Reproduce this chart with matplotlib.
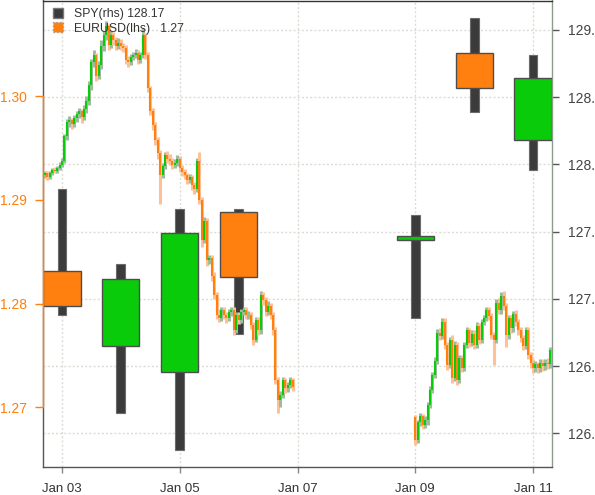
import numpy as np
import pandas as pd
import matplotlib
matplotlib.use("Agg")
import matplotlib.pyplot as plt
import matplotlib.dates as mdates
from matplotlib.patches import Patch

plt.rcParams['font.family'] = ['Liberation Sans', 'DejaVu Sans']

# ---------------- data ----------------
spy_dates = ['2012-01-03', '2012-01-04', '2012-01-05', '2012-01-06',
             '2012-01-09', '2012-01-10', '2012-01-11']
spy_open  = [127.21, 126.65, 126.46, 127.645, 127.44, 128.83, 128.18]
spy_high  = [127.82, 127.26, 127.67, 127.67, 127.62, 129.09, 128.81]
spy_low   = [126.88, 126.15, 125.88, 126.74, 126.86, 128.39, 127.96]
spy_close = [126.95, 127.15, 127.49, 127.16, 127.47, 128.57, 128.64]

fx1_start = '2012-01-02 16:00'
fx1_open0 = 1.2921
fx1_close = [1.2924, 1.2926, 1.2922, 1.2926, 1.2929, 1.2928, 1.2931, 1.2934,
             1.2938, 1.2962, 1.2975, 1.2977, 1.2973, 1.2979, 1.2983, 1.2986, 1.2980, 1.2988,
             1.2996, 1.3011, 1.3033, 1.3040, 1.3020, 1.3030, 1.3049, 1.3059, 1.3068, 1.3050,
             1.3059, 1.3054, 1.3049, 1.3052, 1.3049, 1.3047, 1.3035, 1.3033, 1.3038, 1.3040,
             1.3042, 1.3035, 1.3040, 1.3059, 1.3040, 1.3008, 1.2986, 1.2972, 1.2958, 1.2945,
             1.2924, 1.2933, 1.2943, 1.2940, 1.2938, 1.2934, 1.2936, 1.2940, 1.2931, 1.2927,
             1.2924, 1.2919, 1.2922, 1.2914, 1.2911, 1.2938, 1.2900, 1.2861, 1.2880, 1.2842,
             1.2844, 1.2827, 1.2808, 1.2789, 1.2786, 1.2794, 1.2789, 1.2786, 1.2792, 1.2794,
             1.2774, 1.2789, 1.2784, 1.2792, 1.2794, 1.2789, 1.2789, 1.2779, 1.2765, 1.2784,
             1.2774, 1.2808, 1.2803, 1.2792, 1.2798, 1.2789, 1.2774, 1.2726, 1.2707, 1.2712,
             1.2726, 1.2718, 1.2721, 1.2726, 1.2719]
fx1_high = [1.2927, 1.2928, 1.2928, 1.2928, 1.2931, 1.2932, 1.2933, 1.2937,
            1.2941, 1.2964, 1.2978, 1.2981, 1.2979, 1.2982, 1.2986, 1.2989, 1.2988, 1.2992,
            1.3000, 1.3015, 1.3036, 1.3045, 1.3042, 1.3034, 1.3054, 1.3063, 1.3073, 1.3070,
            1.3063, 1.3062, 1.3057, 1.3056, 1.3055, 1.3052, 1.3050, 1.3039, 1.3041, 1.3043,
            1.3046, 1.3045, 1.3043, 1.3066, 1.3061, 1.3043, 1.3010, 1.2989, 1.2975, 1.2961,
            1.2948, 1.2936, 1.2946, 1.2947, 1.2944, 1.2941, 1.2940, 1.2943, 1.2942, 1.2934,
            1.2930, 1.2926, 1.2925, 1.2924, 1.2917, 1.2941, 1.2946, 1.2903, 1.2884, 1.2883,
            1.2847, 1.2847, 1.2830, 1.2811, 1.2795, 1.2797, 1.2797, 1.2792, 1.2795, 1.2797,
            1.2797, 1.2792, 1.2792, 1.2795, 1.2797, 1.2797, 1.2793, 1.2792, 1.2782, 1.2787,
            1.2787, 1.2812, 1.2811, 1.2806, 1.2802, 1.2801, 1.2792, 1.2777, 1.2729, 1.2716,
            1.2729, 1.2728, 1.2724, 1.2729, 1.2728]
fx1_low = [1.2919, 1.2921, 1.2919, 1.2920, 1.2924, 1.2926, 1.2926, 1.2929,
           1.2932, 1.2936, 1.2958, 1.2970, 1.2969, 1.2970, 1.2975, 1.2979, 1.2974, 1.2977,
           1.2984, 1.2992, 1.3006, 1.3028, 1.3015, 1.3017, 1.3026, 1.3044, 1.3054, 1.3045,
           1.3047, 1.3050, 1.3045, 1.3046, 1.3045, 1.3043, 1.3031, 1.3028, 1.3030, 1.3035,
           1.3037, 1.3031, 1.3032, 1.3037, 1.3036, 1.3004, 1.2982, 1.2968, 1.2953, 1.2940,
           1.2896, 1.2921, 1.2930, 1.2936, 1.2934, 1.2930, 1.2931, 1.2933, 1.2927, 1.2923,
           1.2920, 1.2915, 1.2916, 1.2910, 1.2906, 1.2908, 1.2896, 1.2855, 1.2858, 1.2836,
           1.2838, 1.2822, 1.2804, 1.2785, 1.2782, 1.2783, 1.2785, 1.2781, 1.2783, 1.2788,
           1.2770, 1.2772, 1.2780, 1.2781, 1.2789, 1.2785, 1.2785, 1.2775, 1.2760, 1.2763,
           1.2770, 1.2771, 1.2799, 1.2788, 1.2789, 1.2785, 1.2770, 1.2722, 1.2694, 1.2700,
           1.2709, 1.2714, 1.2715, 1.2718, 1.2716]

fx2_start = '2012-01-09 00:00'
fx2_open0 = 1.2690
fx2_close = [1.2668, 1.2686, 1.2691, 1.2683, 1.2688, 1.2702, 1.2717, 1.2731, 1.2745, 1.2772,
             1.2769, 1.2782, 1.2760, 1.2741, 1.2765, 1.2728, 1.2760, 1.2726, 1.2747, 1.2738,
             1.2760, 1.2774, 1.2762, 1.2771, 1.2760, 1.2778, 1.2765, 1.2782, 1.2786, 1.2794,
             1.2788, 1.2770, 1.2765, 1.2801, 1.2794, 1.2807, 1.2798, 1.2770, 1.2786, 1.2776,
             1.2790, 1.2782, 1.2774, 1.2767, 1.2759, 1.2774, 1.2750, 1.2743, 1.2738, 1.2742,
             1.2738, 1.2743, 1.2740, 1.2743, 1.2742, 1.2755]
fx2_high = [1.2692, 1.2688, 1.2694, 1.2693, 1.2691, 1.2705, 1.2720, 1.2734, 1.2748, 1.2775,
            1.2776, 1.2786, 1.2786, 1.2763, 1.2768, 1.2770, 1.2764, 1.2763, 1.2750, 1.2750,
            1.2763, 1.2777, 1.2776, 1.2774, 1.2774, 1.2782, 1.2781, 1.2785, 1.2789, 1.2797,
            1.2797, 1.2791, 1.2773, 1.2804, 1.2805, 1.2811, 1.2812, 1.2801, 1.2789, 1.2789,
            1.2793, 1.2794, 1.2785, 1.2777, 1.2770, 1.2777, 1.2777, 1.2753, 1.2746, 1.2745,
            1.2744, 1.2746, 1.2746, 1.2746, 1.2747, 1.2758]
fx2_low = [1.2663, 1.2665, 1.2682, 1.2679, 1.2680, 1.2683, 1.2699, 1.2714, 1.2728, 1.2742,
           1.2765, 1.2766, 1.2756, 1.2736, 1.2738, 1.2723, 1.2725, 1.2721, 1.2723, 1.2734,
           1.2735, 1.2757, 1.2758, 1.2759, 1.2756, 1.2757, 1.2761, 1.2762, 1.2779, 1.2783,
           1.2784, 1.2766, 1.2741, 1.2762, 1.2790, 1.2790, 1.2794, 1.2758, 1.2766, 1.2772,
           1.2773, 1.2778, 1.2770, 1.2763, 1.2755, 1.2756, 1.2746, 1.2738, 1.2733, 1.2734,
           1.2733, 1.2734, 1.2735, 1.2736, 1.2737, 1.2738]

x_tick_dates = ['2012-01-03', '2012-01-05', '2012-01-07', '2012-01-09', '2012-01-11']
fx_ticks = [1.27, 1.28, 1.29, 1.30]
spy_ticks = [126.0, 126.5, 127.0, 127.5, 128.0, 128.5, 129.0]
legend_labels = ['SPY(rhs) 128.17', 'EURUSD(lhs)   1.27']

# ---------------- style ----------------
UP = '#0ACB0A'
DN = '#FF7F0F'
UP_W = '#9DBB9D'
DN_W = '#FFC096'
WICK = '#3b3b3b'

W, H = 595, 495
fig = plt.figure(figsize=(W / 100, H / 100), dpi=100)
ax_spy = fig.add_axes([43 / W, 28 / H, 509 / W, 466.5 / H])
ax_fx = ax_spy.twinx()
ax_fx.yaxis.tick_left()
ax_spy.yaxis.tick_right()

# SPY daily candles (right axis)
sx = mdates.date2num(pd.to_datetime(spy_dates))
so, sh, sl, sc = map(np.array, (spy_open, spy_high, spy_low, spy_close))
sup = sc >= so
ax_spy.bar(sx, sh - sl, bottom=sl, width=0.15, color=WICK, edgecolor='#6b6b6b',
           linewidth=0.8, zorder=2)
ax_spy.bar(sx, np.abs(sc - so), bottom=np.minimum(so, sc), width=0.63,
           color=[UP if u else DN for u in sup], edgecolor='#4d4d4d', linewidth=1.0, zorder=3)


def draw_fx(ax, start, open0, close, high, low):
    t = mdates.date2num(pd.date_range(start, periods=len(close), freq='h'))
    c = np.array(close)
    o = np.concatenate([[open0], c[:-1]])
    up = c >= o
    ax.vlines(t, low, high, colors=[UP_W if u else DN_W for u in up], linewidth=2.2, zorder=2)
    ax.vlines(t, np.minimum(o, c), np.maximum(o, c),
              colors=[UP if u else DN for u in up], linewidth=1.5, zorder=3)


draw_fx(ax_fx, fx1_start, fx1_open0, fx1_close, fx1_high, fx1_low)
draw_fx(ax_fx, fx2_start, fx2_open0, fx2_close, fx2_high, fx2_low)

# limits
x0 = mdates.date2num(pd.Timestamp('2012-01-03')) - 0.322
x1 = mdates.date2num(pd.Timestamp('2012-01-11')) + 0.322
ax_spy.set_xlim(x0, x1)
ax_fx.set_ylim(1.26422, 1.30926)
ax_spy.set_ylim(125.7505, 129.2175)

# ticks
ax_spy.set_xticks(mdates.date2num(pd.to_datetime(x_tick_dates)))
ax_spy.xaxis.set_major_formatter(mdates.DateFormatter('%b %d'))
ax_spy.tick_params(axis='x', length=4.5, width=1, color='#888888', labelcolor='#333333',
                   labelsize=9.5, pad=7)
ax_spy.set_yticks(spy_ticks)
ax_spy.set_yticklabels([f'{v:.1f}' for v in spy_ticks])
ax_spy.tick_params(axis='y', right=True, left=False, labelright=True, labelleft=False,
                   length=5, width=1, color='#555555', labelcolor='#444444',
                   labelsize=10, pad=6.5)
ax_fx.set_yticks(fx_ticks)
ax_fx.set_yticklabels([f'{v:.2f}' for v in fx_ticks])
ax_fx.tick_params(axis='y', left=True, right=False, labelleft=True, labelright=False,
                  length=5.8, width=1, color=DN, labelcolor=DN, labelsize=10, pad=5.5)

# spines
for s in ax_fx.spines.values():
    s.set_visible(False)
ax_fx.spines['left'].set_visible(True)
ax_fx.spines['left'].set_bounds(1.27, 1.30)
ax_fx.spines['left'].set_color(DN)
ax_fx.spines['left'].set_linewidth(1.0)
ax_spy.spines['left'].set_color('#555555')
ax_spy.spines['bottom'].set_color('#555555')
ax_spy.spines['top'].set_color('#333333')
ax_spy.spines['right'].set_color('#8c9c8c')
for s in ax_spy.spines.values():
    s.set_linewidth(1.0)

# grid
ax_spy.set_axisbelow(True)
ax_spy.grid(True, color='#dcdcd4', linestyle=(0, (1.5, 1.5)), linewidth=1.0)

# legend
handles = [Patch(facecolor='#3b3b3b', edgecolor='#777777'),
           Patch(facecolor=DN, edgecolor='#999999', linestyle=':')]
leg = ax_fx.legend(handles, legend_labels, loc='upper left',
                   bbox_to_anchor=(10 / 509, 1 - 7 / 466.5), frameon=False, fontsize=8.8,
                   handlelength=0.85, handleheight=0.9, handletextpad=0.85,
                   labelspacing=0.2, borderaxespad=0, borderpad=0)
for t in leg.get_texts():
    t.set_color('#333333')
leg.set_zorder(10)

fig.savefig('out.png', dpi=100, facecolor='white')
